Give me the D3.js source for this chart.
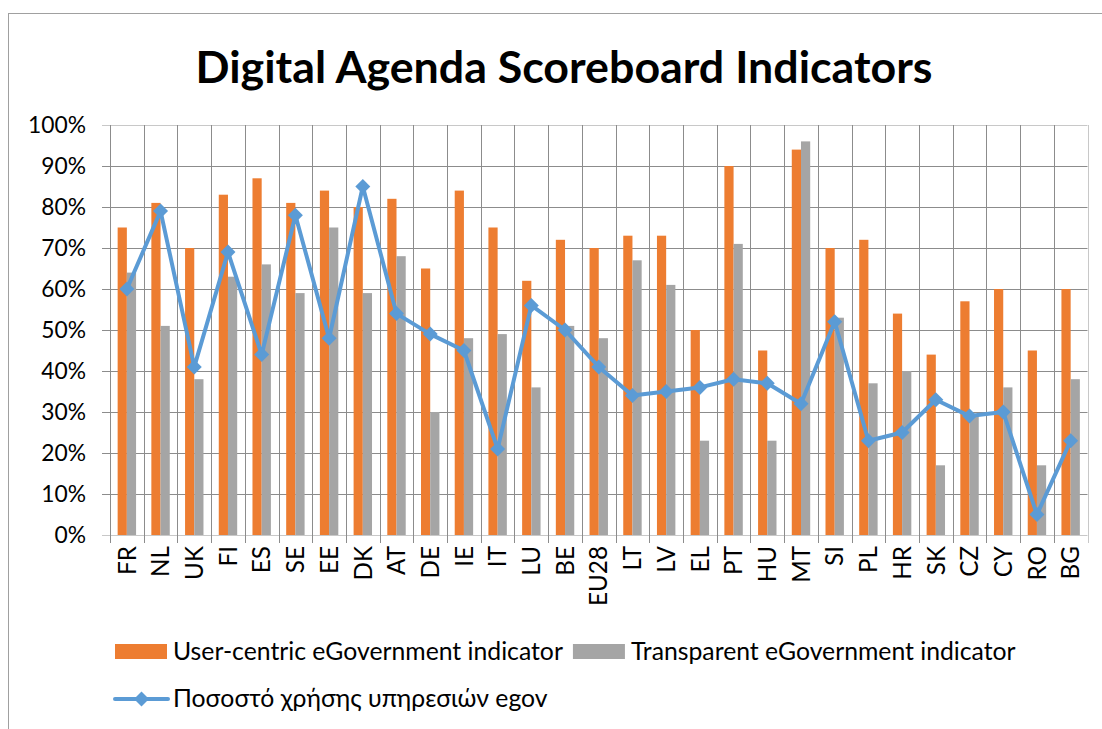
<!DOCTYPE html>
<html>
<head>
<meta charset="utf-8">
<script src="https://cdn.jsdelivr.net/npm/d3@7"></script>
<style>
  html, body { margin: 0; padding: 0; background: #fff; }
  svg { display: block; }
  text { font-family: Lato, "Open Sans", "Noto Sans", sans-serif; fill: #000; }
</style>
</head>
<body>
<svg id="chart" width="1102" height="729"></svg>
<script>
const categories = ["FR","NL","UK","FI","ES","SE","EE","DK","AT","DE","IE","IT","LU","BE","EU28","LT","LV","EL","PT","HU","MT","SI","PL","HR","SK","CZ","CY","RO","BG"];
const userCentric = [75,81,70,83,87,81,84,80,82,65,84,75,62,72,70,73,73,50,90,45,94,70,72,54,44,57,60,45,60];
const transparent = [64,51,38,63,66,59,75,59,68,30,48,49,36,51,48,67,61,23,71,23,96,53,37,40,17,29,36,17,38];
const egovUsage   = [60,79,41,69,44,78,48,85,54,49,45,21,56,50,41,34,35,36,38,37,32,52,23,25,33,29,30,5,23];
const yTicks = [0,10,20,30,40,50,60,70,80,90,100];
const seriesNames = ["User-centric eGovernment indicator","Transparent eGovernment indicator","Ποσοστό χρήσης υπηρεσιών egov"];
const colors = ["#ED7D31","#A5A5A5","#5B9BD5"];
const titleText = "Digital Agenda Scoreboard Indicators";

(function () {
const svg = d3.select("#chart");

function fitSize(str, weight, target) {
  const t = svg.append("text").attr("font-size", 100).attr("font-weight", weight).text(str);
  const w = t.node().getComputedTextLength();
  t.remove();
  return 100 * target / w;
}

svg.append("rect").attr("x", 8.5).attr("y", 13.5).attr("width", 1200).attr("height", 800)
  .attr("fill", "none").attr("stroke", "#a0a0a0").attr("stroke-width", 1);

const pLeft = 110, pRight = 1087.5, pTop = 125, pBottom = 535;
const x = d3.scaleBand().domain(categories).range([pLeft, pRight]).padding(0);
const bw = x.bandwidth();
const xs = d3.scaleBand().domain([0,1]).range([0, bw]).paddingInner(0).paddingOuter(0.83);
const y = d3.scaleLinear().domain([0, 100]).range([pBottom, pTop]);

const g = svg.append("g");
g.selectAll("line.h").data(yTicks).join("line")
  .attr("x1", pLeft - 8).attr("x2", pRight)
  .attr("y1", d => Math.round(y(d)) + 0.5).attr("y2", d => Math.round(y(d)) + 0.5)
  .attr("stroke", d => (d === 0 || d === 100) ? "#c8c8c8" : "#8c8c8c").attr("stroke-width", 1);
const vb = categories.map(c => x(c)).concat([pRight]);
g.selectAll("line.v").data(vb).join("line")
  .attr("x1", d => Math.round(d) + 0.5).attr("x2", d => Math.round(d) + 0.5)
  .attr("y1", pTop).attr("y2", pBottom + 8)
  .attr("stroke", (d, i) => (i === vb.length - 1) ? "#c8c8c8" : "#8c8c8c").attr("stroke-width", 1);

const bars = svg.append("g");
[userCentric, transparent].forEach((arr, si) => {
  bars.selectAll("rect.s" + si).data(arr).join("rect")
    .attr("class", "s" + si)
    .attr("x", (d, i) => x(categories[i]) + xs(si))
    .attr("width", xs.bandwidth())
    .attr("y", d => y(d))
    .attr("height", d => y(0) - y(d))
    .attr("fill", colors[si]);
});

const line = d3.line().x((d, i) => x(categories[i]) + bw / 2).y(d => y(d));
svg.append("path").datum(egovUsage).attr("d", line)
  .attr("fill", "none").attr("stroke", colors[2]).attr("stroke-width", 4)
  .attr("stroke-linejoin", "round").attr("stroke-linecap", "round");
const diamond = d3.symbol().type(d3.symbolSquare).size(112);
svg.append("g").selectAll("path").data(egovUsage).join("path")
  .attr("d", diamond)
  .attr("transform", (d, i) => `translate(${x(categories[i]) + bw / 2},${y(d)}) rotate(45)`)
  .attr("fill", colors[2]);

const ySize = fitSize("100%", 400, 58);
svg.append("g").selectAll("text").data(yTicks).join("text")
  .attr("x", 86).attr("y", d => y(d)).attr("dy", "0.36em")
  .attr("text-anchor", "end").attr("font-size", ySize)
  .text(d => d + "%");

const xSize = fitSize("EU28", 400, 60);
svg.append("g").selectAll("text").data(categories).join("text")
  .attr("transform", d => `translate(${x(d) + bw / 2},546) rotate(-90)`)
  .attr("dy", "0.36em").attr("text-anchor", "end").attr("font-size", xSize)
  .text(d => d);

const tSize = fitSize(titleText, 700, 737);
svg.append("text").attr("x", 564).attr("y", 83).attr("text-anchor", "middle")
  .attr("font-weight", 700).attr("font-size", tSize).text(titleText);

const lSize = fitSize(seriesNames[0], 400, 390);
const leg = svg.append("g");
leg.append("rect").attr("x", 115).attr("y", 644).attr("width", 52).attr("height", 15).attr("fill", colors[0]);
const t1 = leg.append("text").attr("x", 173).attr("y", 651).attr("dy", "0.36em").attr("font-size", lSize).text(seriesNames[0]);
const t1end = 173 + t1.node().getComputedTextLength();
leg.append("rect").attr("x", t1end + 10).attr("y", 644).attr("width", 52).attr("height", 15).attr("fill", colors[1]);
leg.append("text").attr("x", t1end + 68).attr("y", 651).attr("dy", "0.36em").attr("font-size", lSize).text(seriesNames[1]);
leg.append("line").attr("x1", 115).attr("x2", 168).attr("y1", 699).attr("y2", 699)
  .attr("stroke", colors[2]).attr("stroke-width", 4).attr("stroke-linecap", "round");
leg.append("path").attr("d", diamond).attr("transform", "translate(141.5,699) rotate(45)").attr("fill", colors[2]);
leg.append("text").attr("x", 173).attr("y", 698).attr("dy", "0.36em").attr("font-size", lSize).text(seriesNames[2]);
})();
</script>
</body>
</html>
